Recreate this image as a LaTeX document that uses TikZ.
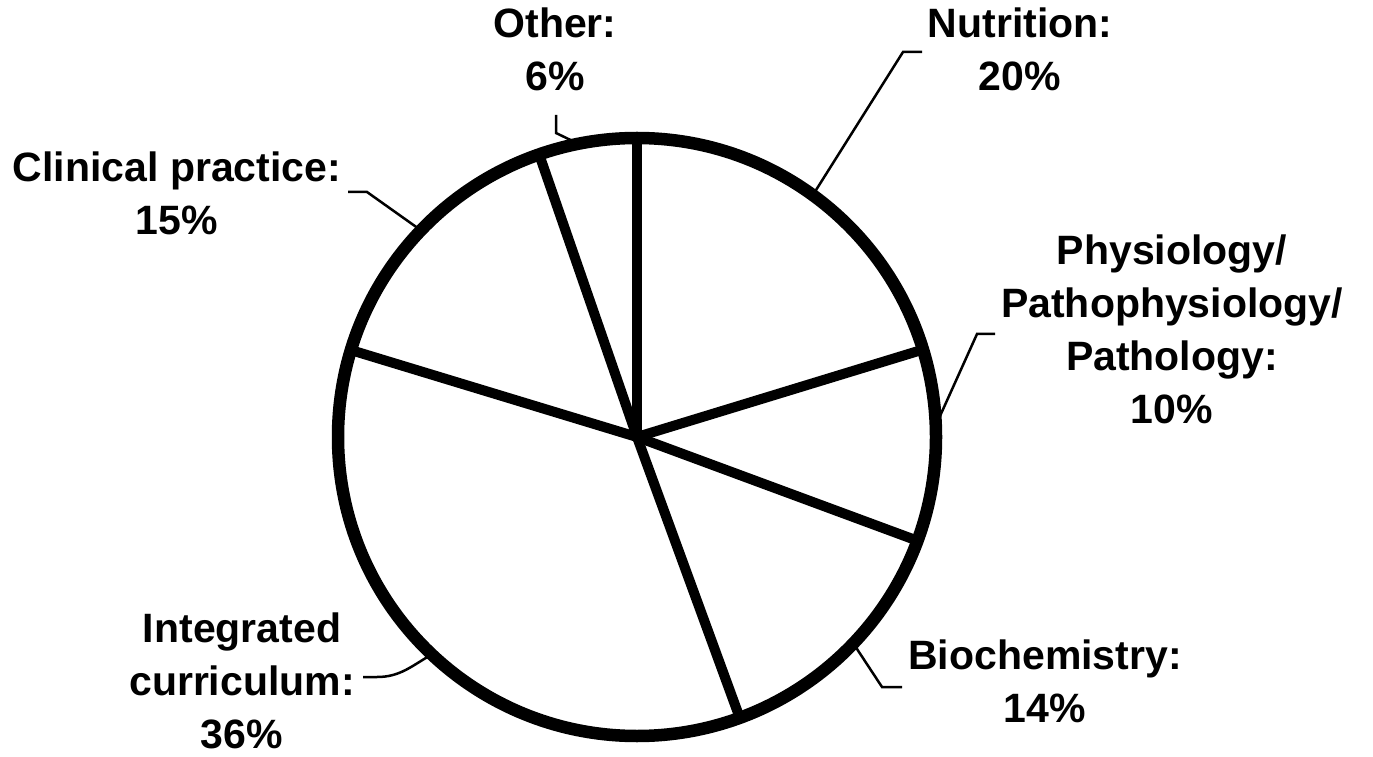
\documentclass[tikz,border=0pt]{standalone}
\usepackage{fontspec}
\setmainfont{Liberation Sans}
\usetikzlibrary{calc}

\tikzset{
  slicelabel/.style={align=center, anchor=north, inner sep=0pt,
    font=\fontsize{41}{53}\selectfont\bfseries},
  leader/.style={line width=2.5pt, line join=miter},
}

\begin{document}
\begin{tikzpicture}[x=1pt,y=1pt]
\useasboundingbox (0,0) rectangle (1373,756);

% Pie
\coordinate (c) at (637,319);
\foreach \a in {90,17,-20.3,-69.9,163.1,109.1}
\draw[line width=10pt] (c) -- ($(c)+(\a:299pt)$);
\draw[line width=12.5pt] (c) circle[radius=299pt];

% Labels
\node[slicelabel] (other) at (555,748) {Other:\\6\%};
\node[slicelabel] (nutr) at (1020,748) {Nutrition:\\20\%};
\node[slicelabel] (clin) at (177,604) {Clinical practice:\\15\%};
\node[slicelabel] (phys) at (1172,521) {Physiology/\\Pathophysiology/\\Pathology:\\10\%};
\node[slicelabel] (bioc) at (1045,116) {Biochemistry:\\14\%};
\node[slicelabel] (integ) at (242,143) {Integrated\\curriculum:\\36\%};

% Leaders
\coordinate (othertip) at (556,641);
\coordinate (nutrtip) at (922,704);
\coordinate (clintip) at (348,564);
\coordinate (phystip) at (995,422);
\coordinate (integtip) at (363,79);
\coordinate (bioctip) at (902,69);
\draw[leader] (othertip) -- ++(0,-18) -- ($(c)+(101.3:299pt)$);
\draw[leader] (nutrtip) -- ++(-19,0) -- ($(c)+(54:300pt)$);
\draw[leader] (clintip) -- ++(19,0) -- ($(c)+(136.3:300pt)$);
\draw[leader] (phystip) -- ++(-18,0) -- ($(c)+(2.6:300pt)$);
\draw[leader] (integtip) -- ++(14,0) to[out=0,in=210] ($(c)+(226.6:300pt)$);
\draw[leader] (bioctip) -- ++(-20,0) -- ($(c)+(-43.7:300pt)$);
\end{tikzpicture}
\end{document}
